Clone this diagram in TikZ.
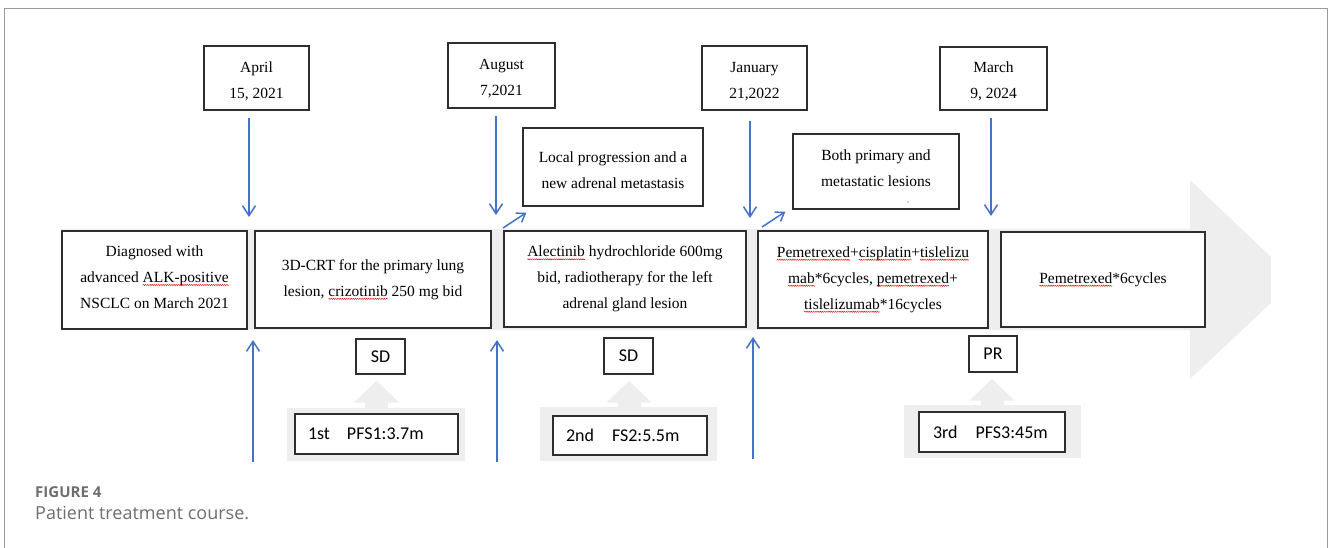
\documentclass[tikz,border=0pt]{standalone}
\usepackage{fontspec}
\setmainfont{Liberation Serif}
\newfontfamily\calibrifont{Carlito}
\newfontfamily\capfont{Open Sans}
\usetikzlibrary{arrows.meta,calc,decorations.pathmorphing}
\definecolor{arrowblue}{HTML}{4472C4}
\definecolor{bandgray}{HTML}{EEEEEE}
\definecolor{boxline}{HTML}{2E2E2E}
\definecolor{framegray}{HTML}{9A9A9A}
\definecolor{capgray}{HTML}{6E6E6E}
\tikzset{
  sqn/.style={shape=rectangle,draw=none,fill=none,inner sep=0pt,outer sep=0pt,minimum width=0pt,minimum height=0pt,text width=,font=},
  box/.style={draw=boxline,line width=1.3pt,fill=white,align=center,inner sep=0pt,font=\fontsize{15.5}{26}\selectfont},
  lab/.style={draw=boxline,line width=1.3pt,fill=white,inner sep=0pt,font=\calibrifont\fontsize{18}{20}\selectfont},
  pfsbox/.style={lab,align=left,inner ysep=0pt},
  grayrect/.style={fill=bandgray,inner sep=0pt},
  barrow/.style={draw=arrowblue,line width=1.5pt,-{Straight Barb[length=10pt,width=13pt]}},
  sarrow/.style={draw=arrowblue,line width=1.5pt,-{Straight Barb[length=8pt,width=11pt]}},
  garrow/.style={draw=bandgray,line width=23pt,-{Triangle[length=22pt,width=44pt]},shorten >=6pt}
}
\newcommand\sq[1]{\tikz[baseline=(sqw.base)]{\node[sqn](sqw){#1};\draw[overlay,red!90!black,line width=0.45pt,decorate,decoration={snake,amplitude=0.55pt,segment length=2.2pt}]([yshift=-2.6pt]sqw.base west)--([yshift=-2.6pt]sqw.base east);}}
\newcommand\tallstrut{\rule{0pt}{17pt}}
\newcommand\deepstrut{\rule[-6pt]{0pt}{6pt}}
\begin{document}
\begin{tikzpicture}[x=1pt,y=-1pt]
\useasboundingbox (0,0) rectangle (1328,548);
% outer frame
\draw[framegray,line width=1pt] (4,548) -- (4,9) -- (1327,9) -- (1327,548);
% big gray arrow band
\fill[bandgray] (62,229) -- (1190,229) -- (1190,180) -- (1271,257) -- (1271,303) -- (1190,379) -- (1190,330) -- (62,330) -- cycle;

% date boxes
\node[box,minimum width=105pt,minimum height=64pt] (d1) at (256.5,78) {\tallstrut April\\15, 2021};
\node[box,minimum width=107pt,minimum height=65pt] (d2) at (501.5,75.5) {\tallstrut August\\7,2021};
\node[box,minimum width=105pt,minimum height=64pt] (d3) at (754.5,78) {\tallstrut January\\21,2022};
\node[box,minimum width=107pt,minimum height=63pt] (d4) at (993.5,78.5) {\tallstrut March\\9, 2024};

% event boxes
\node[box,minimum width=180pt,minimum height=78pt] (e1) at (613,167) {\tallstrut Local progression and a\\new adrenal metastasis};
\node[box,minimum width=166pt,minimum height=75pt] (e2) at (876,171.5) {Both primary and\\metastatic lesions\deepstrut};
\fill[boxline] (908,202) circle (0.7);

% main boxes
\node[box,minimum width=185pt,minimum height=98pt] (m1) at (154.5,280) {Diagnosed with\\advanced \sq{ALK-positive}\\NSCLC on March 2021\deepstrut};
\node[box,minimum width=236pt,minimum height=97pt] (m2) at (373,279.5) {3D-CRT for the primary lung\\lesion, \sq{crizotinib} 250 mg bid};
\node[box,minimum width=242pt,minimum height=96pt] (m3) at (625,279) {\sq{Alectinib} hydrochloride 600mg\\bid, radiotherapy for the left\\adrenal gland lesion};
\node[box,minimum width=230pt,minimum height=97pt] (m4) at (873,279.5) {\sq{Pemetrexed}+\sq{cisplatin}+\sq{tislelizu}\\\sq{mab}*6cycles, \sq{pemetrexed}+\\\sq{tislelizumab}*16cycles};
\node[box,minimum width=204pt,minimum height=95pt] (m5) at (1103,279.5) {\sq{Pemetrexed}*6cycles};

% down arrows from dates
\coordinate (t1) at (249,217);
\coordinate (t2) at (496,215);
\coordinate (t3) at (750,218);
\coordinate (t4) at (991,216);
\draw[barrow] ([xshift=-7.5pt,yshift=-7pt]d1.south) -- (t1);
\draw[barrow] ([xshift=-5.5pt,yshift=-7pt]d2.south) -- (t2);
\draw[barrow] ([xshift=-4.5pt,yshift=-10pt]d3.south) -- (t3);
\draw[barrow] ([xshift=-2.5pt,yshift=-7pt]d4.south) -- (t4);

% small diagonal arrows
\coordinate (s1a) at (503,228);
\coordinate (s2a) at (762,227);
\draw[sarrow] (s1a) -- ([xshift=4pt,yshift=-6pt]e1.south west);
\draw[sarrow] (s2a) -- ([xshift=-7pt,yshift=-2pt]e2.south west);

% up arrows
\coordinate (u1a) at (253,462); \coordinate (u1b) at (253,340);
\coordinate (u2a) at (497,462); \coordinate (u2b) at (497,340);
\coordinate (u3a) at (753,459); \coordinate (u3b) at (753,337);
\draw[barrow] (u1a) -- (u1b);
\draw[barrow] (u2a) -- (u2b);
\draw[barrow] (u3a) -- (u3b);

% response labels
\node[lab,minimum width=49pt,minimum height=35pt] (r1) at (380.5,356.5) {SD};
\node[lab,minimum width=49pt,minimum height=36pt] (r2) at (628.5,356) {SD};
\node[lab,minimum width=48pt,minimum height=36pt] (r3) at (993,354) {PR};

% gray backgrounds of PFS boxes
\node[grayrect,minimum width=178pt,minimum height=53pt] (g1) at (376,434.5) {};
\node[grayrect,minimum width=177pt,minimum height=54pt] (g2) at (628.5,434) {};
\node[grayrect,minimum width=177pt,minimum height=53pt] (g3) at (992.5,431.5) {};

% PFS boxes
\node[pfsbox,inner xsep=13pt,text width=137pt,minimum height=40pt] (p1) at (376.5,434) {1st\hspace{17pt}PFS1:3.7m};
\node[pfsbox,inner xsep=13pt,text width=128pt,minimum height=39pt] (p2) at (630,435.5) {2nd\hspace{18pt}FS2:5.5m};
\node[pfsbox,inner xsep=14pt,text width=118pt,minimum height=40pt] (p3) at (992,432) {3rd\hspace{18pt}PFS3:45m};

% gray block arrows
\draw[garrow] (p1 |- g1.north) -- (p1 |- r1.south);
\draw[garrow] ([xshift=-1pt]p2 |- g2.north) -- ([xshift=-1pt]p2 |- r2.south);
\draw[garrow] (p3 |- g3.north) -- (p3 |- r3.south);

% caption
\node[anchor=base west,inner sep=0pt,text=capgray,font=\capfont\bfseries\fontsize{15}{18}\selectfont] (fig) at (35,497) {FIGURE 4};
\node[anchor=base west,inner sep=0pt,text=capgray,font=\capfont\fontsize{18}{20}\selectfont] (cap) at (35,519) {Patient treatment course.};
\end{tikzpicture}
\end{document}
